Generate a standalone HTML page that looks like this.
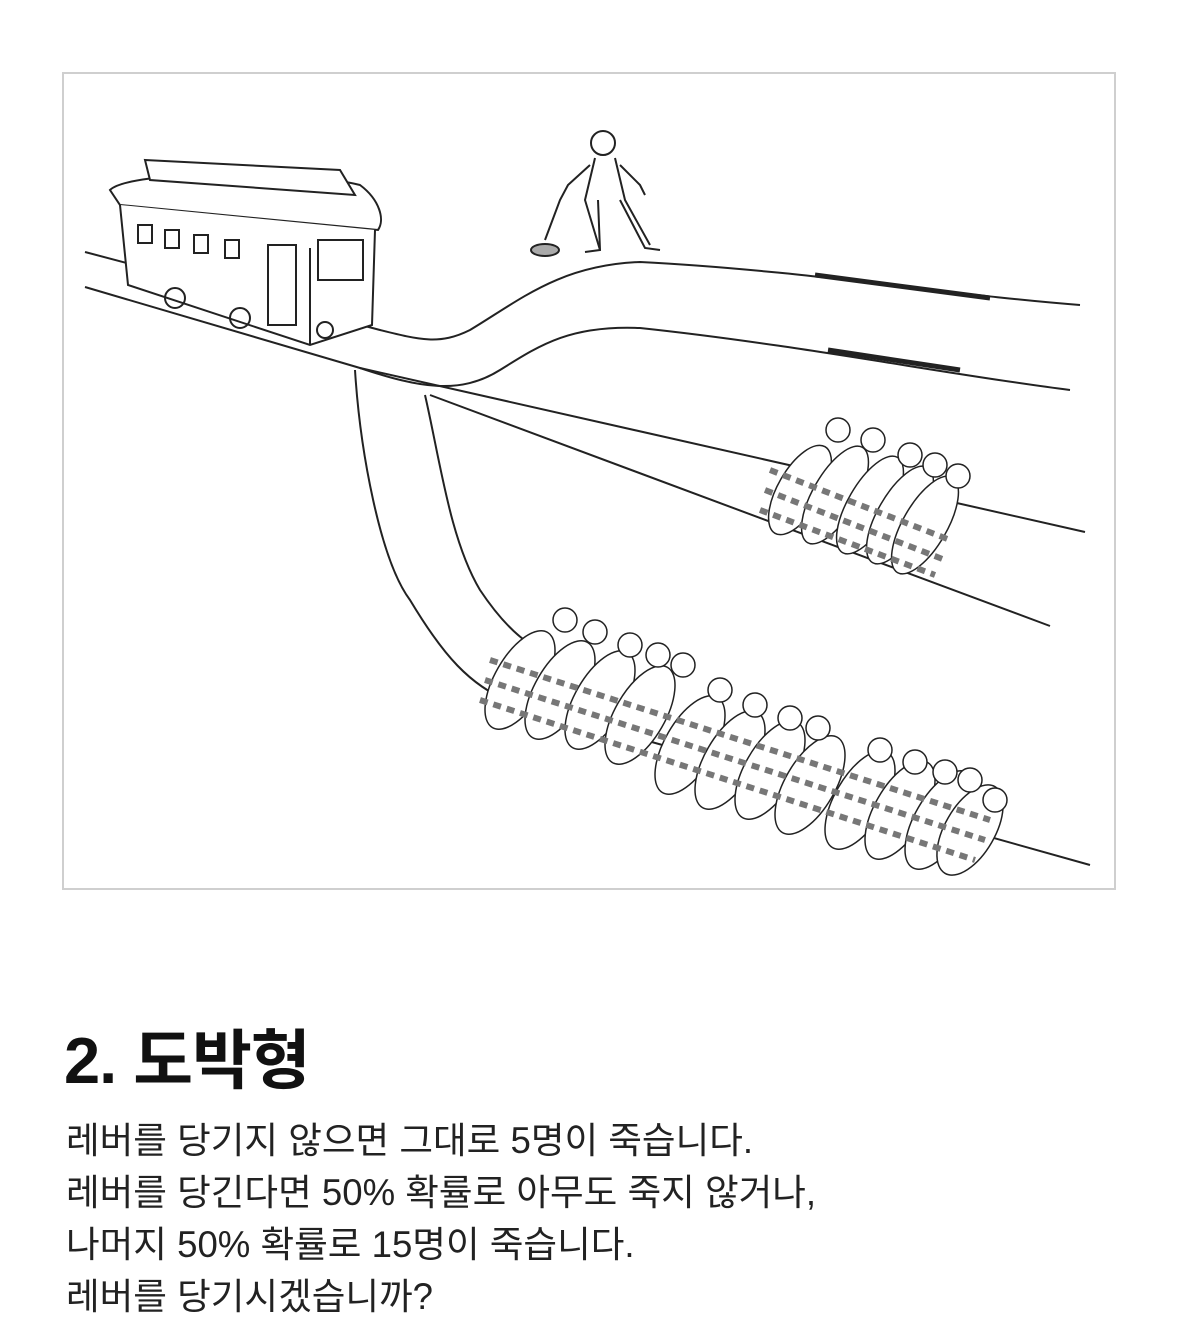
<!DOCTYPE html>
<html><head><meta charset="utf-8"><style>
body{margin:0;background:#fff;width:1179px;height:1342px;overflow:hidden;font-family:"Liberation Sans","Noto Sans CJK KR",sans-serif;}
.box{position:absolute;left:62px;top:72px;width:1050px;height:814px;border:2px solid #cfcfcf;background:#fff;}
h1{position:absolute;left:64px;top:1008px;margin:0;font-size:65px;font-weight:bold;color:#111;letter-spacing:-1px;}
.t{position:absolute;left:66px;font-size:36.6px;color:#222;line-height:40px;}
</style></head><body>
<div class="box"></div>
<svg width="1179" height="1342" style="position:absolute;left:0;top:0" fill="none" stroke="#222" stroke-width="2">
<path d="M85 252 L380 330 C420 340 440 345 470 330 C520 300 560 265 640 262 C800 270 950 295 1080 305"/>
<path d="M85 287 L360 368 C420 388 460 395 500 370 C540 345 570 325 640 328 C800 345 950 375 1070 390"/>
<path d="M360 368 L1085 532"/>
<path d="M430 395 L1050 626"/>
<path d="M355 370 C360 450 380 560 410 600 C440 650 470 690 520 705 L1090 865"/>
<path d="M425 395 C440 460 450 540 480 590 C500 620 520 640 540 650"/>
<path d="M815 275 L990 298" stroke-width="5"/>
<path d="M828 350 L960 370" stroke-width="5"/>
<path d="M110 190 C130 170 300 170 360 185 C380 200 385 220 378 230 L120 205 Z" fill="#fff"/>
<path d="M145 160 L340 170 L355 195 L150 180 Z" fill="#fff"/>
<path d="M120 205 L128 285 L310 345 L372 325 L375 230" fill="#fff"/>
<path d="M310 248 L310 345"/>
<g fill="#fff"><path d="M138 225 h14 v18 h-14 z"/><path d="M165 230 h14 v18 h-14 z"/><path d="M194 235 h14 v18 h-14 z"/><path d="M225 240 h14 v18 h-14 z"/>
<rect x="268" y="245" width="28" height="80"/><rect x="318" y="240" width="45" height="40"/></g>
<circle cx="175" cy="298" r="10"/><circle cx="240" cy="318" r="10"/><circle cx="325" cy="330" r="8"/>
<circle cx="603" cy="143" r="12" fill="#fff"/>
<path d="M595 158 L585 200 L600 250 M615 158 L625 200 L650 245 M590 165 L568 185 L560 200 L545 240 M620 165 L640 185 L645 195"/>
<path d="M598 200 L600 250 L585 252 M620 200 L645 248 L660 250"/>
<ellipse cx="545" cy="250" rx="14" ry="6" fill="#aaa"/>
<g stroke-width="1.5" fill="#fff">
<ellipse cx="800" cy="490" rx="22" ry="50" transform="rotate(30 800 490)"/>
<ellipse cx="835" cy="495" rx="22" ry="55" transform="rotate(30 835 495)"/>
<ellipse cx="870" cy="505" rx="22" ry="55" transform="rotate(30 870 505)"/>
<ellipse cx="900" cy="515" rx="22" ry="55" transform="rotate(30 900 515)"/>
<ellipse cx="925" cy="525" rx="22" ry="55" transform="rotate(30 925 525)"/>
<circle cx="838" cy="430" r="12"/><circle cx="873" cy="440" r="12"/><circle cx="910" cy="455" r="12"/><circle cx="935" cy="465" r="12"/><circle cx="958" cy="476" r="12"/>
</g>
<path d="M770 470 L950 540 M765 490 L945 560 M760 510 L935 575" stroke="#777" stroke-width="6" stroke-dasharray="8 6"/>
<g stroke-width="1.5" fill="#fff">
<ellipse cx="520" cy="680" rx="25" ry="55" transform="rotate(30 520 680)"/>
<ellipse cx="560" cy="690" rx="25" ry="55" transform="rotate(30 560 690)"/>
<ellipse cx="600" cy="700" rx="25" ry="55" transform="rotate(30 600 700)"/>
<ellipse cx="640" cy="715" rx="25" ry="55" transform="rotate(30 640 715)"/>
<ellipse cx="690" cy="745" rx="25" ry="55" transform="rotate(30 690 745)"/>
<ellipse cx="730" cy="760" rx="25" ry="55" transform="rotate(30 730 760)"/>
<ellipse cx="770" cy="770" rx="25" ry="55" transform="rotate(30 770 770)"/>
<ellipse cx="810" cy="785" rx="25" ry="55" transform="rotate(30 810 785)"/>
<ellipse cx="860" cy="800" rx="25" ry="55" transform="rotate(30 860 800)"/>
<ellipse cx="900" cy="810" rx="25" ry="55" transform="rotate(30 900 810)"/>
<ellipse cx="940" cy="820" rx="25" ry="55" transform="rotate(30 940 820)"/>
<ellipse cx="970" cy="830" rx="25" ry="50" transform="rotate(30 970 830)"/>
<circle cx="565" cy="620" r="12"/><circle cx="595" cy="632" r="12"/><circle cx="630" cy="645" r="12"/><circle cx="658" cy="655" r="12"/><circle cx="683" cy="665" r="12"/>
<circle cx="720" cy="690" r="12"/><circle cx="755" cy="705" r="12"/><circle cx="790" cy="718" r="12"/><circle cx="818" cy="728" r="12"/>
<circle cx="880" cy="750" r="12"/><circle cx="915" cy="762" r="12"/><circle cx="945" cy="772" r="12"/><circle cx="970" cy="780" r="12"/><circle cx="995" cy="800" r="12"/>
</g>
<path d="M490 660 L990 820 M485 680 L985 840 M480 700 L975 860" stroke="#777" stroke-width="6" stroke-dasharray="8 6"/>
</svg>
<h1>2. 도박형</h1>
<div class="t" style="top:1121px">레버를 당기지 않으면 그대로 5명이 죽습니다.</div>
<div class="t" style="top:1173px">레버를 당긴다면 50% 확률로 아무도 죽지 않거나,</div>
<div class="t" style="top:1225px">나머지 50% 확률로 15명이 죽습니다.</div>
<div class="t" style="top:1277px">레버를 당기시겠습니까?</div>
</body></html>
